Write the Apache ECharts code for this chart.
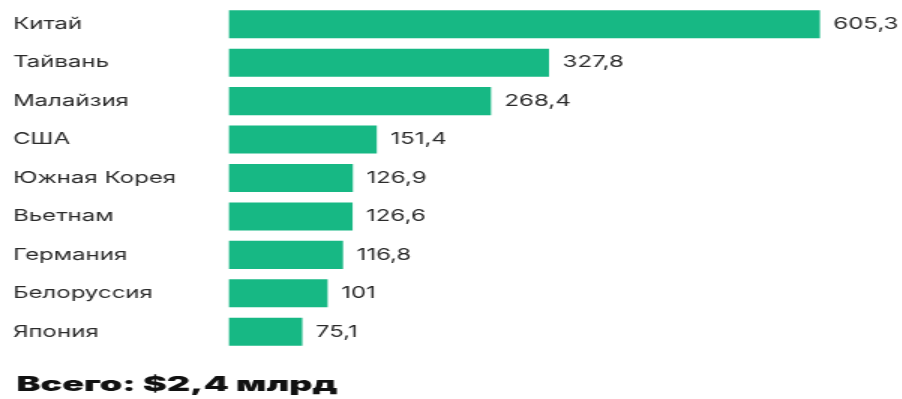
<!DOCTYPE html>
<html>
<head>
<meta charset="utf-8">
<script src="https://cdn.jsdelivr.net/npm/echarts@6/dist/echarts.min.js"></script>
<style>
  html, body { margin: 0; padding: 0; background: #ffffff; overflow: hidden; }
  #wrap { width: 902px; height: 399px; overflow: hidden; }
  /* the chart is laid out narrow and stretched wide, giving the extended letterforms */
  #chart { width: 601.333px; height: 399px; transform: scaleX(1.5); transform-origin: 0 0; }
</style>
</head>
<body>
<div id="wrap"><div id="chart"></div></div>
<script>
// Exporting countries, top to bottom
const countries = ['Китай', 'Тайвань', 'Малайзия', 'США', 'Южная Корея', 'Вьетнам', 'Германия', 'Белоруссия', 'Япония'];
// Values, $ млн
const values = [605.3, 327.8, 268.4, 151.4, 126.9, 126.6, 116.8, 101, 75.1];
const totalTitle = 'Всего: $2,4 млрд';

const chart = echarts.init(document.getElementById('chart'), null, { renderer: 'canvas' });

const fmt = v => String(v).replace('.', ',');

chart.setOption({
  animation: false,
  backgroundColor: '#ffffff',
  graphic: [{
    type: 'text',
    x: 11,
    y: 385,
    scaleX: 1.2,
    style: {
      text: totalTitle,
      fontFamily: 'Inter',
      fontWeight: 900,
      fontSize: 20,
      fill: '#111111',
      textVerticalAlign: 'middle'
    }
  }],
  grid: { left: 152.67, right: 25.3, top: 5, height: 346 },
  xAxis: {
    type: 'value',
    min: 0,
    max: 650,
    show: false
  },
  yAxis: {
    type: 'category',
    inverse: true,
    data: countries,
    axisLine: { show: false },
    axisTick: { show: false },
    axisLabel: {
      align: 'left',
      margin: 144,
      fontFamily: 'Inter',
      fontSize: 16,
      color: '#2b2b2b'
    }
  },
  series: [{
    type: 'bar',
    data: values,
    barCategoryGap: '27%',
    itemStyle: { color: '#17B884' },
    label: {
      show: true,
      position: 'right',
      distance: 9,
      formatter: p => fmt(p.value),
      fontFamily: 'Inter',
      fontSize: 16,
      color: '#2b2b2b'
    }
  }]
});
</script>
</body>
</html>
